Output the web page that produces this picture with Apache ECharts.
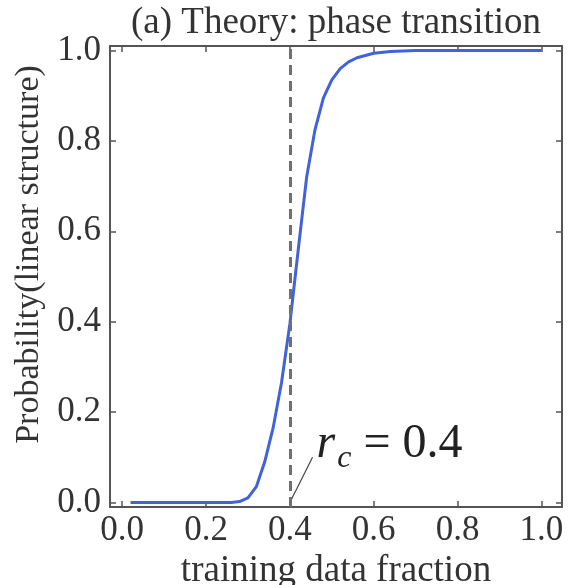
<!DOCTYPE html>
<html>
<head>
<meta charset="utf-8">
<script src="https://cdn.jsdelivr.net/npm/echarts@6/dist/echarts.min.js"></script>
<style>
  html, body { margin: 0; padding: 0; background: #fff; }
  #chart { width: 570px; height: 585px; }
</style>
</head>
<body>
<div id="chart"></div>
<script>
// training data fraction
const fraction = [0.02, 0.10, 0.20, 0.26, 0.28, 0.30, 0.32, 0.34, 0.36, 0.38, 0.40, 0.42, 0.44,
                  0.46, 0.48, 0.50, 0.52, 0.54, 0.56, 0.60, 0.64, 0.70, 0.80, 0.90, 1.00];
// probability of linear structure
const probability = [0, 0, 0, 0, 0.002, 0.01, 0.035, 0.09, 0.165, 0.265, 0.395, 0.56, 0.72,
                     0.825, 0.895, 0.935, 0.96, 0.975, 0.984, 0.994, 0.998, 1.0, 1.0, 1.0, 1.0];
const tickValues = [0, 0.2, 0.4, 0.6, 0.8, 1.0];
const criticalRatio = 0.4;
// annotation pointer: from (r_c, 0) up to the label
const pointer = [[0.4, 0], [0.454, 0.1]];

const FONT = '"Liberation Serif", "DejaVu Serif", serif';
const FRAME = '#555';

const xRange = { min: -0.029, max: 1.049 };
const yRange = { min: -0.01, max: 1.01 };

function frameAxis(extra) {
  return Object.assign({
    type: 'value',
    splitLine: { show: false },
    axisLine: { show: true, onZero: false, lineStyle: { color: FRAME, width: 2 } },
    axisTick: { show: true, inside: true, length: 6, customValues: tickValues,
                lineStyle: { color: FRAME, width: 1.5 } },
    axisLabel: { show: false, customValues: tickValues }
  }, extra);
}

function tickLabels(margin) {
  return {
    show: true,
    margin: margin,
    customValues: tickValues,
    formatter: v => v.toFixed(1),
    fontFamily: FONT, fontSize: 35, color: '#333'
  };
}

const chart = echarts.init(document.getElementById('chart'));
chart.setOption({
  animation: false,
  grid: { left: 110, top: 46, width: 452, height: 461, outerBoundsMode: 'none' },
  xAxis: [
    frameAxis(Object.assign({ position: 'bottom', axisLabel: tickLabels(6),
      name: 'training data fraction', nameLocation: 'middle', nameGap: 37,
      nameTextStyle: { fontFamily: FONT, fontSize: 37, color: '#333' } }, xRange)),
    frameAxis(Object.assign({ position: 'top',
      name: '(a) Theory: phase transition', nameLocation: 'middle', nameGap: 4,
      nameTextStyle: { fontFamily: FONT, fontSize: 37, color: '#333' } }, xRange))
  ],
  yAxis: [
    frameAxis(Object.assign({ position: 'left', axisLabel: tickLabels(9),
      name: 'Probability(linear structure)', nameLocation: 'middle', nameGap: 60,
      nameTextStyle: { fontFamily: FONT, fontSize: 34, color: '#333', padding: [0, 0, 0, 44] } }, yRange)),
    frameAxis(Object.assign({ position: 'right' }, yRange))
  ],
  series: [
    {
      type: 'line',
      data: fraction.map((x, i) => [x, probability[i]]),
      showSymbol: false,
      smooth: false,
      lineStyle: { color: '#4063d8', width: 3 },
      itemStyle: { color: '#4063d8' },
      silent: true,
      markLine: {
        silent: true,
        symbol: 'none',
        label: { show: false },
        lineStyle: { color: '#707070', type: [10, 6], width: 3 },
        data: [{ xAxis: criticalRatio }]
      }
    },
    {
      type: 'line',
      data: pointer,
      showSymbol: false,
      silent: true,
      lineStyle: { color: '#444', width: 1.2 },
      endLabel: {
        show: true,
        distance: 4,
        offset: [0, -13],
        formatter: '{r|r}{c|c}{t| = 0.4}',
        rich: {
          r: { fontFamily: FONT, fontStyle: 'italic', fontSize: 48, color: '#222' },
          c: { fontFamily: FONT, fontStyle: 'italic', fontSize: 32, color: '#222', padding: [28, 0, 0, 2] },
          t: { fontFamily: FONT, fontSize: 48, color: '#222' }
        }
      }
    }
  ]
});
</script>
</body>
</html>
